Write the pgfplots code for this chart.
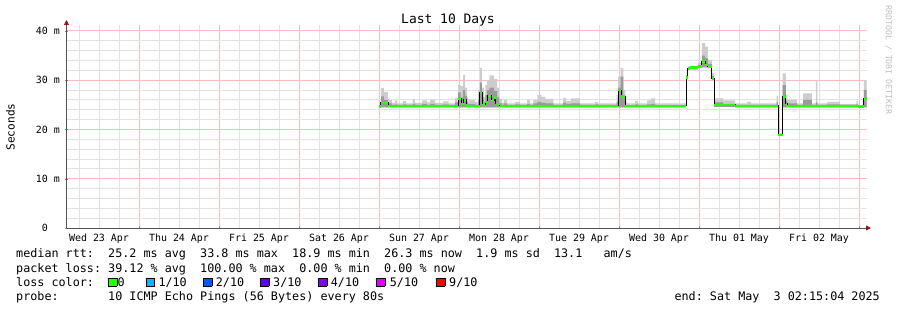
\documentclass[border=0pt]{standalone}
\usepackage{fontspec}
\setmainfont{DejaVu Sans Mono}
\usepackage{pgfplots}
\pgfplotsset{compat=1.18}
\usepackage{pgfplotstable}
\usepgfplotslibrary{fillbetween}
\usetikzlibrary{arrows.meta}
\definecolor{loss0}{HTML}{26FF00}
\definecolor{loss1}{HTML}{00B8FF}
\definecolor{loss2}{HTML}{0059FF}
\definecolor{loss3}{HTML}{5E00FF}
\definecolor{loss4}{HTML}{7E00FF}
\definecolor{loss5}{HTML}{DD00FF}
\definecolor{loss9}{HTML}{FF0000}
\definecolor{smokeA}{HTML}{CDCDCD}
\definecolor{smokeB}{HTML}{9A9A9A}
\definecolor{majgrid}{HTML}{F5BDBD}
\definecolor{mingrid}{HTML}{E2E2E2}
\definecolor{axiscol}{HTML}{555555}
\definecolor{arrowcol}{HTML}{8B1A1A}
\setlength{\fboxsep}{0pt}
\setlength{\fboxrule}{0.8bp}
\newcommand{\lsq}[1]{\fcolorbox{black}{#1}{\rule{0pt}{7.5bp}\hspace{7.5bp}}}

% x = days since Thu 24 Apr 00:00, y = ms
\pgfplotstableread{
x lo hi hi2
3.000 24.4 25.2 24.9
3.025 24.5 28.4 26.7
3.060 24.5 27.6 26.0
3.110 24.5 26.0 25.3
3.160 24.5 25.4 25.0
3.200 24.5 25.9 25.1
3.230 24.5 25.3 25.0
3.300 24.5 25.8 25.1
3.340 24.5 25.3 25.0
3.420 24.5 26.1 25.2
3.450 24.5 25.4 25.0
3.540 24.5 25.9 25.2
3.600 24.5 25.5 25.0
3.640 24.5 26.0 25.2
3.700 24.5 25.4 25.0
3.800 24.5 25.7 25.1
3.870 24.5 25.3 25.0
3.950 24.5 26.4 25.5
3.990 24.5 29.0 27.5
4.020 24.5 28.8 26.5
4.050 24.5 31.1 28.0
4.075 24.5 28.5 26.8
4.100 24.5 26.5 25.5
4.110 24.5 26.0 25.2
4.200 24.5 25.6 25.0
4.240 24.5 28.0 26.0
4.260 24.5 32.5 29.5
4.285 24.5 28.5 26.5
4.310 24.5 26.5 25.5
4.330 24.5 29.0 27.0
4.350 24.5 30.0 28.0
4.380 24.5 31.0 28.5
4.440 24.5 30.2 27.8
4.475 24.5 28.5 26.5
4.500 24.5 26.2 25.3
4.540 24.5 25.4 25.0
4.560 24.5 26.0 25.3
4.600 24.5 25.3 25.0
4.700 24.5 25.6 25.1
4.760 24.5 25.3 25.0
4.850 24.5 26.0 25.2
4.890 24.5 25.3 25.0
4.930 24.5 26.0 25.3
4.980 24.5 27.0 25.6
5.030 24.5 26.6 25.4
5.080 24.5 26.2 25.3
5.180 24.5 25.3 25.0
5.300 24.5 26.4 25.4
5.340 24.5 25.8 25.2
5.400 24.5 26.3 25.3
5.510 24.5 25.3 25.0
5.700 24.5 25.6 25.1
5.740 24.5 25.3 25.0
5.970 24.5 27.0 25.6
5.990 24.5 30.7 28.5
6.020 24.5 32.5 30.7
6.055 24.5 28.0 26.8
6.080 24.5 25.6 25.0
6.100 24.5 25.3 24.9
6.200 24.5 25.8 25.1
6.240 24.5 25.3 24.9
6.350 24.5 25.9 25.1
6.400 24.5 26.3 25.2
6.450 24.5 25.3 24.9
6.840 30.2 31.0 30.8
6.860 32.2 32.8 32.6
6.990 32.5 33.5 33.0
7.035 32.6 37.5 35.0
7.075 32.6 36.8 34.5
7.110 32.5 34.1 33.3
7.160 30.2 31.5 30.8
7.190 24.6 26.3 25.5
7.300 24.6 25.9 25.2
7.450 24.5 25.3 25.0
7.600 24.5 25.6 25.0
7.650 24.5 25.3 25.0
7.970 24.5 26.8 25.6
7.990 18.7 19.3 19.0
8.045 24.5 31.4 29.0
8.085 24.5 27.0 25.8
8.105 24.5 26.0 25.3
8.225 24.5 25.3 25.0
8.300 24.5 27.3 26.0
8.410 24.5 25.3 25.0
8.460 24.5 30.0 25.5
8.480 24.5 25.3 25.0
8.600 24.5 25.6 25.1
8.760 24.5 25.2 25.0
8.970 24.5 25.8 25.2
8.990 24.4 25.0 24.8
9.060 24.5 30.0 28.0
9.094 24.5 30.0 28.0
}\smoke

\pgfplotstableread{
x y
3.000 24.6
3.020 25.4
3.115 24.8
3.990 26.2
4.030 25.2
4.060 26.0
4.090 24.9
4.110 24.8
4.260 27.4
4.290 25.0
4.330 25.6
4.360 26.8
4.400 25.8
4.440 26.5
4.460 25.2
4.510 24.8
5.990 28.0
6.030 26.7
6.075 24.8
6.840 30.6
6.860 32.4
6.890 32.6
6.990 32.8
7.035 33.8
7.075 33.1
7.110 32.8
7.160 30.4
7.190 25.0
7.450 24.8
7.990 18.9
8.045 26.7
8.085 25.2
8.105 24.8
8.990 24.6
9.060 26.3
9.094 26.3
}\median

\begin{document}
\begin{tikzpicture}
\begin{axis}[
  at={(66.5bp,82bp)}, anchor=south west, scale only axis,
  width=800bp, height=203bp,
  xmin=-0.90625, xmax=9.09375, ymin=0, ymax=41.2,
  axis lines=left,
  axis line style={draw=axiscol, line width=0.9bp},
  x axis line style={-{Triangle[length=5bp,width=5bp,color=arrowcol]}, shorten >=-4.5bp},
  y axis line style={-{Triangle[length=5bp,width=5bp,color=arrowcol]}, shorten >=-5bp},
  xtick={0,1,...,9}, xticklabels={},
  minor xtick={-0.75,-0.5,-0.25,0.25,0.5,0.75,1.25,1.5,1.75,2.25,2.5,2.75,3.25,3.5,3.75,4.25,4.5,4.75,5.25,5.5,5.75,6.25,6.5,6.75,7.25,7.5,7.75,8.25,8.5,8.75},
  ytick={0,10,20,30,40},
  yticklabels={0\phantom{~m},10~m,20~m,30~m,40~m},
  minor ytick={2,4,6,8,12,14,16,18,22,24,26,28,32,34,36,38},
  xmajorgrids, ymajorgrids, xminorgrids, yminorgrids,
  every major grid/.style={draw=majgrid, solid, line width=0.9bp},
  every minor grid/.style={draw=mingrid, solid, line width=0.9bp},
  tick align=center,
  major tick length=3bp, minor tick length=0pt,
  tick label style={font=\fontsize{10}{12}\selectfont, inner sep=0pt},
  yticklabel style={anchor=east, xshift=-5bp},
  extra x ticks={-0.5,0.5,...,8.5},
  extra x tick labels={Wed 23 Apr,Thu 24 Apr,Fri 25 Apr,Sat 26 Apr,Sun 27 Apr,Mon 28 Apr,Tue 29 Apr,Wed 30 Apr,Thu 01 May,Fri 02 May},
  extra x tick style={grid=none, major tick length=0pt, xticklabel style={anchor=north, yshift=-6bp}},
]
\addplot[name path=lo, draw=none, const plot] table[x=x,y=lo]{\smoke};
\addplot[name path=hi, draw=none, const plot] table[x=x,y=hi]{\smoke};
\addplot[name path=hitwo, draw=none, const plot] table[x=x,y=hi2]{\smoke};
\addplot[fill=smokeA, draw=none] fill between[of=lo and hi];
\addplot[fill=smokeB, draw=none] fill between[of=lo and hitwo];
\addplot[black, line width=1bp, const plot] table[x=x,y=y]{\median};
\addplot[loss0, line width=2.6bp, jump mark left] table[x=x,y=y]{\median};
\end{axis}
\node[anchor=base, inner sep=0, font=\fontsize{13}{15}\selectfont] at (448bp,286bp) {Last 10 Days};
\node[rotate=90, inner sep=0, font=\fontsize{11.2}{13}\selectfont] at (10.5bp,183bp) {Seconds};
\node[rotate=-90, inner sep=0, text=gray!50, font=\fontsize{8.3}{10}\selectfont] at (888.5bp,250bp) {RRDTOOL~/~TOBI~OETIKER};
\begin{scope}[every node/.style={anchor=base west, inner sep=0, font=\fontsize{11.8}{14}\selectfont}]
\node at (16bp,52bp) {median~rtt:~~25.2~ms~avg~~33.8~ms~max~~18.9~ms~min~~26.3~ms~now~~1.9~ms~sd~~13.1~~~am/s};
\node at (16bp,38bp) {packet~loss:~39.12~\%~avg~~100.00~\%~max~~0.00~\%~min~~0.00~\%~now};
\node at (16bp,24bp) {loss~color:};
\node at (108bp,24bp) {\lsq{loss0}};
\node at (117.3bp,24bp) {0};
\node at (145.7bp,24bp) {\lsq{loss1}};
\node at (158.3bp,24bp) {1/10};
\node at (203bp,24bp) {\lsq{loss2}};
\node at (215.7bp,24bp) {2/10};
\node at (260bp,24bp) {\lsq{loss3}};
\node at (273bp,24bp) {3/10};
\node at (318bp,24bp) {\lsq{loss4}};
\node at (330.7bp,24bp) {4/10};
\node at (376bp,24bp) {\lsq{loss5}};
\node at (389.7bp,24bp) {5/10};
\node at (436bp,24bp) {\lsq{loss9}};
\node at (449bp,24bp) {9/10};
\node at (16bp,10bp) {probe:~~~~~~~10~ICMP~Echo~Pings~(56~Bytes)~every~80s};
\node[anchor=base east] at (880bp,10bp) {end:~Sat~May~~3~02:15:04~2025};
\end{scope}
\pgfresetboundingbox
\path[use as bounding box] (0,0) rectangle (897bp,310bp);
\end{tikzpicture}
\end{document}
